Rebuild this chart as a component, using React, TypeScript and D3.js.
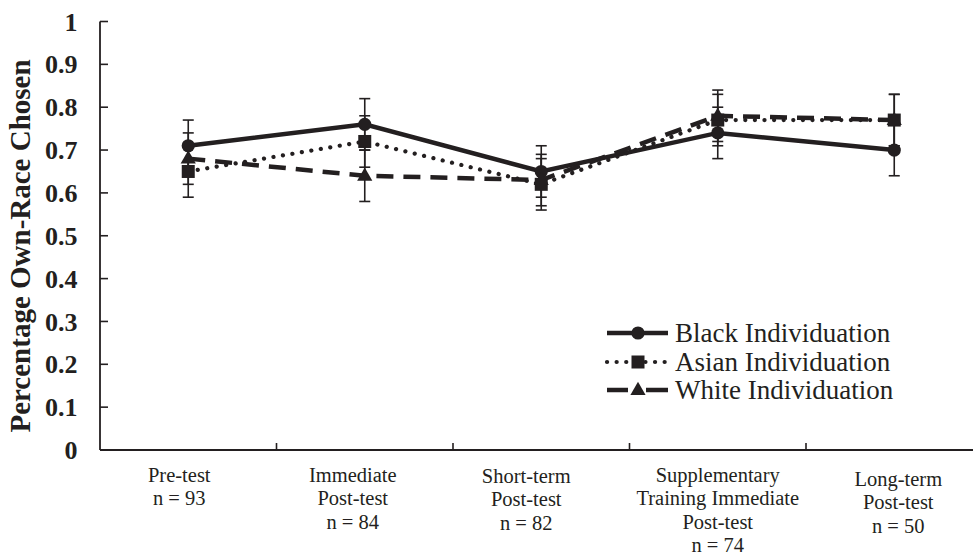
import React from "react";
import * as d3 from "d3";

const categories: string[][] = [
  ["Pre-test", "n = 93"],
  ["Immediate", "Post-test", "n = 84"],
  ["Short-term", "Post-test", "n = 82"],
  ["Supplementary", "Training Immediate", "Post-test", "n = 74"],
  ["Long-term", "Post-test", "n = 50"],
];
const blackValues = [0.71, 0.76, 0.65, 0.74, 0.7];
const asianValues = [0.65, 0.72, 0.62, 0.77, 0.77];
const whiteValues = [0.68, 0.64, 0.63, 0.78, 0.77];
const blackErrors = [0.06, 0.06, 0.06, 0.06, 0.06];
const asianErrors = [0.06, 0.06, 0.06, 0.06, 0.06];
const whiteErrors = [0.06, 0.06, 0.06, 0.06, 0.06];
const yTicks = [0, 0.1, 0.2, 0.3, 0.4, 0.5, 0.6, 0.7, 0.8, 0.9, 1];
const yTickLabels = ["0", "0.1", "0.2", "0.3", "0.4", "0.5", "0.6", "0.7", "0.8", "0.9", "1"];
const seriesNames = ["Black Individuation", "Asian Individuation", "White Individuation"];
const yTitle = "Percentage Own-Race Chosen";

const W = 973;
const H = 556;
const INK = "#231f20";
const SERIF = "'Liberation Serif', 'Times New Roman', serif";
// small layout nudges of the wrapped category labels (as in the original figure)
const LABEL_DX = [-9, -12, -15, 0, 4];
const LABEL_DY = [0, 0, 1, 0, 4];

type Series = { name: string; values: number[]; errors: number[]; dash?: string; marker: string };

export default function App() {
  const series: Series[] = [
    { name: seriesNames[0], values: blackValues, errors: blackErrors, marker: "circle" },
    { name: seriesNames[1], values: asianValues, errors: asianErrors, dash: "0.1 9.5", marker: "square" },
    { name: seriesNames[2], values: whiteValues, errors: whiteErrors, dash: "17 10", marker: "triangle" },
  ];

  const x = d3
    .scaleBand<number>()
    .domain(d3.range(categories.length))
    .range([100, 982.5]);
  const y = d3.scaleLinear().domain([0, 1]).range([450, 21.5]);
  const cx = (i: number) => (x(i) as number) + x.bandwidth() / 2;

  const line = d3
    .line<number>()
    .x((_, i) => cx(i))
    .y((v) => y(v));

  const marker = (type: string, px: number, py: number, key: string) => {
    if (type === "circle") return <circle key={key} cx={px} cy={py} r={6.6} fill={INK} />;
    if (type === "square")
      return <rect key={key} x={px - 6.5} y={py - 6.5} width={13} height={13} fill={INK} />;
    const sym = d3.symbol().type(d3.symbolTriangle).size(100)();
    return <path key={key} d={sym as string} transform={`translate(${px},${py + 0.5})`} fill={INK} />;
  };

  const legendY = [333, 362, 390];
  const legX0 = 607;
  const legX1 = 668;
  const legMid = 638;

  return (
    <svg
      width={W}
      height={H}
      style={{ position: "absolute", left: 0, top: 0, background: "#fff" }}
      fontFamily={SERIF}
    >
      <rect width={W} height={H} fill="#fff" />
      {/* axes */}
      <line x1={100} x2={100} y1={y(1)} y2={y(0)} stroke={INK} strokeWidth={1.8} />
      <line x1={100} x2={982.5} y1={y(0)} y2={y(0)} stroke={INK} strokeWidth={1.8} />
      {yTicks.map((t, i) => (
        <g key={"yt" + i}>
          <line x1={100} x2={108} y1={y(t)} y2={y(t)} stroke={INK} strokeWidth={1.6} />
          <text
            x={77.5}
            y={y(t)}
            dy="0.35em"
            textAnchor="end"
            fontWeight="bold"
            fontSize={26}
            fill={INK}
          >
            {yTickLabels[i]}
          </text>
        </g>
      ))}
      {d3.range(1, categories.length).map((i) => (
        <line key={"xt" + i} x1={x(i)} x2={x(i)} y1={y(0)} y2={y(0) - 7} stroke={INK} strokeWidth={1.6} />
      ))}
      {categories.map((lines, i) => (
        <text key={"cl" + i} textAnchor="middle" fontSize={20.5} fill={INK}>
          {lines.map((l, j) => (
            <tspan key={j} x={cx(i) + LABEL_DX[i]} y={482 + LABEL_DY[i] + j * 23.3}>
              {l}
            </tspan>
          ))}
        </text>
      ))}
      <text
        transform={`translate(30,246) rotate(-90)`}
        textAnchor="middle"
        fontWeight="bold"
        fontSize={29}
        fill={INK}
      >
        {yTitle}
      </text>

      {/* error bars */}
      {series.map((s, si) => (
        <g key={"s" + si}>
          {s.values.map((v, i) => {
            const px = cx(i);
            const e = s.errors[i];
            return (
              <g key={"eb" + i} stroke={INK} strokeWidth={1.6}>
                <line x1={px} x2={px} y1={y(v - e)} y2={y(v + e)} />
                <line x1={px - 5.5} x2={px + 5.5} y1={y(v + e)} y2={y(v + e)} />
                <line x1={px - 5.5} x2={px + 5.5} y1={y(v - e)} y2={y(v - e)} />
              </g>
            );
          })}
        </g>
      ))}
      {/* lines and markers */}
      {series.map((s, si) => (
        <g key={"l" + si}>
          <path
            d={line(s.values) as string}
            fill="none"
            stroke={INK}
            strokeWidth={si === 1 ? 4.2 : 4.5}
            strokeDasharray={s.dash}
            strokeLinecap={si === 1 ? "round" : "butt"}
          />
          {s.values.map((v, i) => marker(s.marker, cx(i), y(v), "m" + i))}
        </g>
      ))}

      {/* legend */}
      {series.map((s, si) => (
        <g key={"lg" + si}>
          <line
            x1={legX0}
            x2={legX1}
            y1={legendY[si]}
            y2={legendY[si]}
            stroke={INK}
            strokeWidth={si === 1 ? 4.2 : 4.5}
            strokeDasharray={si === 2 ? "21 18 30" : s.dash}
            strokeLinecap={si === 1 ? "round" : "butt"}
          />
          {marker(s.marker, legMid, legendY[si], "lm" + si)}
          <text x={675} y={legendY[si]} dy="0.35em" fontSize={27} fill={INK}>
            {s.name}
          </text>
        </g>
      ))}
    </svg>
  );
}
